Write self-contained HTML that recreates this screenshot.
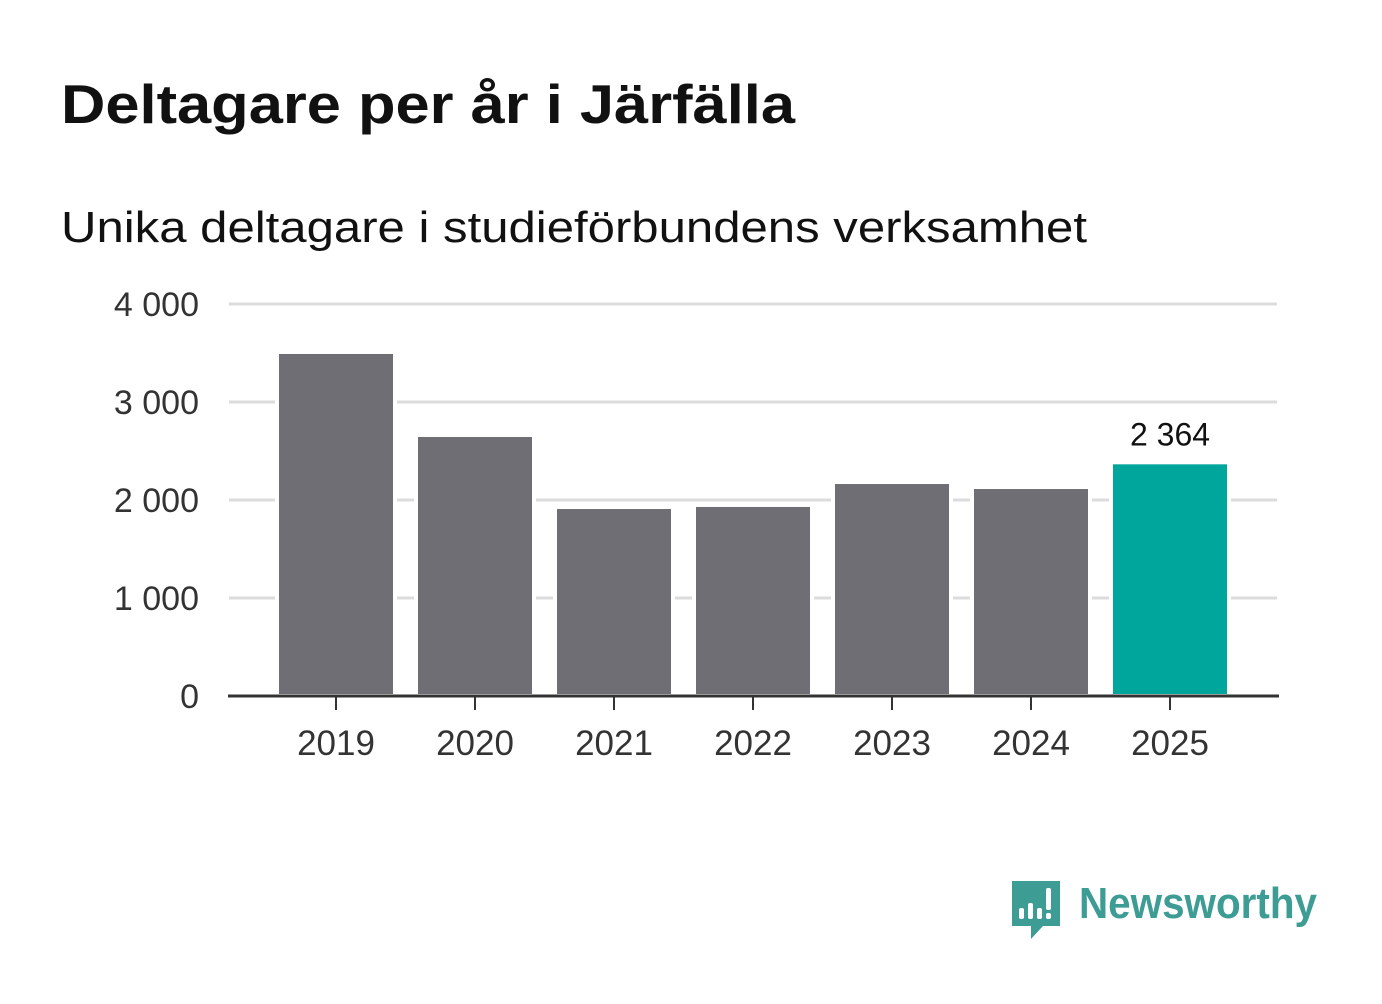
<!DOCTYPE html>
<html><head><meta charset="utf-8">
<style>
body{margin:0;width:1382px;height:999px;background:#fff;overflow:hidden;font-family:"Liberation Sans",sans-serif;}
</style></head>
<body>
<svg width="1382" height="999" id="chart">
<text x="61" y="123" font-size="55" font-weight="bold" fill="#111" textLength="734" lengthAdjust="spacingAndGlyphs">Deltagare per år i Järfälla</text>
<text x="61" y="242" font-size="44" fill="#111" textLength="1026" lengthAdjust="spacingAndGlyphs">Unika deltagare i studieförbundens verksamhet</text>
<g id="grid"></g>
<g id="bars"></g>
<g id="xaxis"></g>
<g>
<path d="M1012 881 h48 v45 h-17 l-12 13 v-13 h-19 z" fill="#3d9d95"/>
<rect x="1019" y="908" width="5" height="11" rx="2" fill="#fff"/>
<rect x="1028" y="903" width="5" height="16" rx="2" fill="#fff"/>
<rect x="1037" y="908" width="5" height="11" rx="2" fill="#fff"/>
<rect x="1046" y="888" width="5" height="22" rx="2" fill="#fff"/>
<rect x="1046" y="913" width="5" height="6" rx="2" fill="#fff"/>
<text x="1079" y="918" font-size="44" font-weight="bold" fill="#3d9d95" textLength="238" lengthAdjust="spacingAndGlyphs">Newsworthy</text>
</g>
</svg>
<script>
const categories=["2019","2020","2021","2022","2023","2024","2025"];
const values=[3490,2643,1908,1929,2163,2112,2364];
const yTicks=[0,1000,2000,3000,4000];
const yTickLabels=["0","1 000","2 000","3 000","4 000"];
const highlightLabel="2 364";
const NS="http://www.w3.org/2000/svg";
const y=v=>696-v*0.098;
const x=i=>336+i*139;
function mk(tag,attrs,parent){const e=document.createElementNS(NS,tag);for(const k in attrs)e.setAttribute(k,attrs[k]);parent.appendChild(e);return e;}
const grid=document.getElementById('grid'),bars=document.getElementById('bars'),xa=document.getElementById('xaxis');
yTicks.forEach((t,i)=>{
 if(t>0){const l=mk('line',{x1:229,x2:1277,y1:y(t),y2:y(t),stroke:'#dcdcdc','stroke-width':3},grid);
 
 }
 const tx=mk('text',{x:199,y:y(t)+12,'font-size':34,fill:'#333','text-anchor':'end'},grid);
 tx.textContent=yTickLabels[i];
 
 
});
values.forEach((v,i)=>{
 const last=i===values.length-1;
 const r=mk('rect',{x:x(i)-59,y:y(v)-2,width:118,height:696-y(v)+2,fill:last?'#00a59b':'#6f6e74',stroke:'#fff','stroke-width':4},bars);
 
 
 mk('line',{x1:x(i),x2:x(i),y1:696,y2:710,stroke:'#333','stroke-width':2},xa);
 const t=mk('text',{x:x(i),y:755,'font-size':35,fill:'#333','text-anchor':'middle'},xa);
 t.textContent=categories[i];
 
 
 if(last){const vl=mk('text',{x:x(i),y:y(v)-19,'font-size':32,fill:'#111','text-anchor':'middle'},bars);
 vl.textContent=highlightLabel;
 
 }
});
const ax=mk('line',{x1:228,x2:1279,y1:696,y2:696,stroke:'#333','stroke-width':3},xa);


</script>
</body></html>
